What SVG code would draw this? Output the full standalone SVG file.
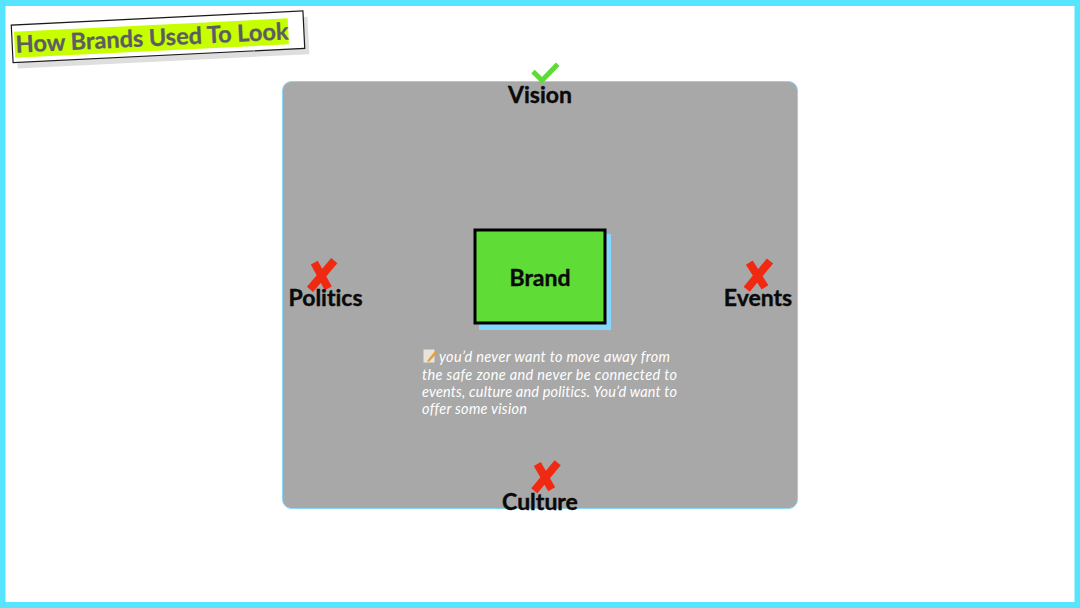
<svg xmlns="http://www.w3.org/2000/svg" width="1080" height="608" viewBox="0 0 1080 608">
<style>
text{font-variant-ligatures:none}
.lbl{font-family:"Lato","Liberation Sans",sans-serif;font-weight:700;font-size:23px;fill:#0a0a0a;stroke:#0a0a0a;stroke-width:.4;text-anchor:middle}
.note{font-family:"Lato","Liberation Sans",sans-serif;font-style:italic;font-size:14.5px;fill:#fff}
.x{stroke:#f02a12;stroke-width:8;fill:none}
</style>
<rect x="0" y="0" width="1080" height="608" fill="#fff"/>
<rect x="2.500" y="3" width="1075" height="602" fill="none" stroke="#57e4ff" stroke-width="6"/>
<g id="title" transform="rotate(-2.8 158 36.700)">
<rect x="16.300" y="24" width="292" height="37.500" fill="#dedede"/>
<rect x="12" y="18" width="292" height="37.500" fill="#fff" stroke="#1a1a1a" stroke-width="1.200"/>
<rect x="14.400" y="24.700" width="274" height="26" fill="#c8ff00"/>
<text x="15.400" y="45.700" font-family="Lato,'Liberation Sans',sans-serif" font-weight="700" font-size="23.500" fill="#5c5c64" stroke="#5c5c64" stroke-width=".3" textLength="273" lengthAdjust="spacing">How Brands Used To Look</text>
</g>
<g id="zone">
<rect x="282.500" y="81.500" width="515" height="427" rx="9" fill="#a8a8a8" stroke="#8ad6f5" stroke-width="1"/>
</g>
<g id="brand">
<rect x="479" y="234" width="132" height="96" fill="#84d8ff"/>
<rect x="475" y="230" width="130" height="93" fill="#60dc36" stroke="#000" stroke-width="3"/>
<text class="lbl" x="540" y="285.500">Brand</text>
</g>
<g id="vision">
<path d="M533 71.500 L542 80.500 L557.700 64.300" fill="none" stroke="#5cdc34" stroke-width="5"/>
<text class="lbl" x="540" y="103">Vision</text>
</g>
<g id="politics">
<path class="x" d="M314.300 262.700 L328.300 288.300 M334.300 260.700 L310 289.300"/>
<text class="lbl" x="325.500" y="306">Politics</text>
</g>
<g id="events">
<path class="x" d="M749.300 262.700 L765 287.300 M770 261 L746.700 289.300"/>
<text class="lbl" x="758" y="306">Events</text>
</g>
<g id="culture">
<path class="x" d="M537.300 464 L551.700 489.300 M557.700 462.700 L534.300 490.700"/>
<text class="lbl" x="540" y="509.500">Culture</text>
</g>
<g id="note">
<g>
<rect x="423.500" y="349.500" width="11" height="13" fill="#e8e4da"/>
<path d="M427 361 L435 351 L437 353 L429 362 Z" fill="#e8a030"/>
</g>
<text class="note" x="439" y="361.500" textLength="231" lengthAdjust="spacing">you’d never want to move away from</text>
<text class="note" x="422" y="379.500" textLength="255" lengthAdjust="spacing">the safe zone and never be connected to</text>
<text class="note" x="422" y="396.500" textLength="255" lengthAdjust="spacing">events, culture and politics. You’d want to</text>
<text class="note" x="422" y="413.500" textLength="105" lengthAdjust="spacing">offer some vision</text>
</g>
</svg>
